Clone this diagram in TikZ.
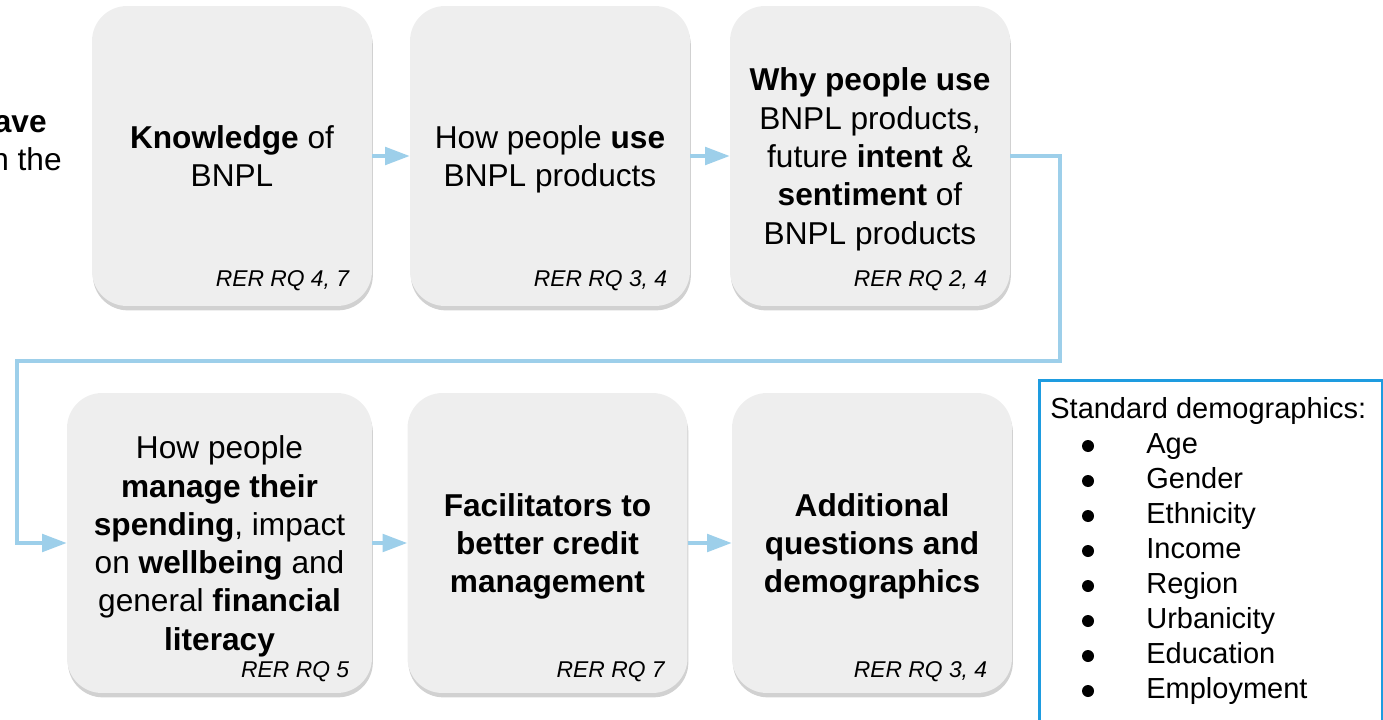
\documentclass[tikz,border=0pt]{standalone}
\usepackage{fontspec}
\setmainfont{Liberation Sans}
\usetikzlibrary{arrows.meta,positioning,calc,shadows}
\definecolor{boxgrey}{HTML}{EEEEEE}
\definecolor{flowblue}{HTML}{9DCFEA}
\definecolor{demoblue}{HTML}{1E9CE0}

\begin{document}
\begin{tikzpicture}[x=0.02cm,y=-0.02cm,
  stage/.style={fill=boxgrey,rounded corners=0.7cm,minimum width=5.6cm,
    minimum height=6cm,align=center,inner sep=0pt,text depth=0pt,
    font=\fontsize{18}{21.8}\selectfont,
    drop shadow={shadow xshift=0.5pt,shadow yshift=-2.5pt,opacity=.3,fill=black!60}},
  stagebold/.style={stage,font=\fontsize{18}{21.8}\selectfont\bfseries},
  rer/.style={anchor=base east,font=\fontsize{13}{15}\selectfont\itshape},
  flow/.style={draw=flowblue,line width=2pt,-{Triangle[length=14pt,width=10pt]}},
  demotext/.style={anchor=base west,inner sep=0pt,font=\fontsize{16.5}{19.8}\selectfont}]
  \useasboundingbox (0,0) rectangle (1383,720);
  \clip (0,0) rectangle (1383,720);

  % text running in from the left edge
  \node[anchor=base east,inner sep=0pt,font=\fontsize{18}{21.8}\selectfont\bfseries]
    (edgeA) at (47,132) {ave};
  \node[anchor=base east,inner sep=0pt,font=\fontsize{18}{21.8}\selectfont]
    (edgeB) at (62,170) {n the};

  % top row
  \node[stage] (know) at (232,156) {\textbf{Knowledge} of\\BNPL};
  \node[stage] (use) at (550,156) {How people \textbf{use}\\BNPL products};
  \node[stage] (why) at (870,156)
    {\textbf{Why people use}\\BNPL products,\\future \textbf{intent} \&\\
     \textbf{sentiment} of\\BNPL products};

  % bottom row
  \node[stage,minimum width=6.1cm] (manage) at (219.5,543)
    {How people\\\textbf{manage their}\\\textbf{spending}, impact\\
     on \textbf{wellbeing} and\\general \textbf{financial}\\\textbf{literacy}};
  \node[stagebold] (facil) at (547.5,543)
    {Facilitators to\\better credit\\management};
  \node[stagebold] (extra) at (872,543)
    {Additional\\questions and\\demographics};

  \node[rer] (rqKnow) at ($(know.south east)+(-17,-20)$) {RER RQ 4, 7};
  \node[rer] (rqUse) at ($(use.south east)+(-17,-20)$) {RER RQ 3, 4};
  \node[rer] (rqWhy) at ($(why.south east)+(-17,-20)$) {RER RQ 2, 4};
  \node[rer] (rqManage) at ($(manage.south east)+(-17,-16)$) {RER RQ 5};
  \node[rer] (rqFacil) at ($(facil.south east)+(-17,-16)$) {RER RQ 7};
  \node[rer] (rqExtra) at ($(extra.south east)+(-19,-16)$) {RER RQ 3, 4};

  % connectors
  \coordinate (loopR) at (1060,361);
  \coordinate (loopL) at (17,361);
  \draw[flow] (know.east) -- (use.west);
  \draw[flow] (use.east) -- (why.west);
  \draw[flow] (why.east) -| (loopR) -- (loopL) |- (manage.west);
  \draw[flow] (manage.east) -- (facil.west);
  \draw[flow] (facil.east) -- (extra.west);

  % demographics list
  \node[draw=demoblue,line width=1.7pt,anchor=north west,
    minimum width=6.86cm,minimum height=7.2cm] (demo) at (1038,379) {};
  \node[demotext] (demoHead) at (1050,418) {Standard demographics:};
  \foreach \field [count=\i] in {Age,Gender,Ethnicity,Income,Region,
      Urbanicity,Education,Employment}{
    \node[circle,fill=black,inner sep=0pt,minimum size=0.24cm]
      (dot\i) at (1088,{446+35*(\i-1)}) {};
    \node[demotext] (field\i) at (1146,{453+35*(\i-1)}) {\field};
  }
\end{tikzpicture}
\end{document}
